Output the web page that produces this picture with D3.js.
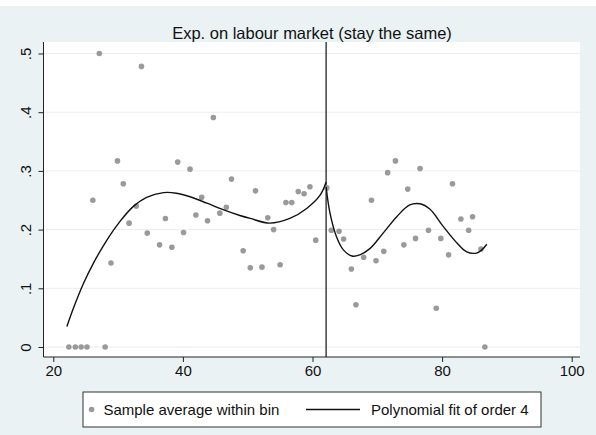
<!DOCTYPE html>
<html><head><meta charset="utf-8">
<script src="https://cdn.jsdelivr.net/npm/d3@7"></script>
<style>body{margin:0;background:#fff}svg{display:block;font-family:"Liberation Sans",Arial,sans-serif}</style>
</head><body><svg id="c" width="596" height="435"></svg>
<script>
const title = "Exp. on labour market (stay the same)";
const xTicks = [20, 40, 60, 80, 100];
const yTicks = [0, 0.1, 0.2, 0.3, 0.4, 0.5];
const yTickLabels = ["0", ".1", ".2", ".3", ".4", ".5"];
const cutoff = 62.1;
const binX = [22.4,23.4,24.3,25.2,26.1,27.1,28.0,28.9,29.9,30.8,31.7,32.8,33.6,34.5,36.4,37.3,38.3,39.2,40.1,41.1,42.0,42.9,43.8,44.7,45.7,46.7,47.5,49.3,50.4,51.2,52.2,53.1,54.0,55.0,55.9,56.8,57.8,58.7,59.6,60.5,62.2,
  62.9,64.1,64.8,66.0,66.7,67.9,69.1,69.8,71.0,71.6,72.8,74.1,74.7,75.9,76.6,77.9,79.1,79.8,81.0,81.6,82.9,84.1,84.7,86.0,86.6];
const binY = [0,0,0,0,0.250,0.500,0,0.143,0.317,0.278,0.211,0.240,0.478,0.194,0.174,0.219,0.170,0.315,0.195,0.303,0.225,0.255,0.215,0.391,0.228,0.238,0.286,0.164,0.135,0.266,0.136,0.220,0.200,0.140,0.246,0.246,0.265,0.261,0.273,0.182,0.271,
  0.199,0.197,0.184,0.133,0.072,0.153,0.250,0.147,0.163,0.297,0.317,0.174,0.269,0.185,0.304,0.199,0.066,0.185,0.157,0.278,0.218,0.199,0.222,0.167,0];
const fitLeftX = [22.1,23.1,24.6,26.2,28.2,30.3,32.4,34.4,37.0,39.0,41.1,43.7,46.2,48.8,50.4,53.4,56.5,59.1,61.2,62.1];
const fitLeftY = [0.035,0.066,0.107,0.143,0.181,0.214,0.240,0.255,0.263,0.262,0.256,0.245,0.234,0.224,0.219,0.211,0.219,0.236,0.259,0.281];
const fitRightX = [62.1,62.7,63.7,64.8,66.1,67.3,68.9,70.9,73.0,75.0,76.6,78.1,80.2,82.3,83.8,85.3,86.1,86.9];
const fitRightY = [0.273,0.228,0.188,0.165,0.155,0.157,0.168,0.194,0.222,0.242,0.244,0.235,0.205,0.177,0.162,0.160,0.165,0.175];
const legendLabels = ["Sample average within bin", "Polynomial fit of order 4"];

const svg = d3.select("#c");
const W = 596, H = 435;
const plot = {l: 43.5, r: 580, t: 42, b: 357};
svg.append("rect").attr("x",0).attr("y",0).attr("width",W).attr("height",H).attr("fill","#fff");
svg.append("rect").attr("x",0).attr("y",6).attr("width",W).attr("height",H-6).attr("fill","#eaf2f3");
svg.append("rect").attr("x",plot.l).attr("y",plot.t).attr("width",plot.r-plot.l).attr("height",plot.b-plot.t).attr("fill","#fff");

const x = d3.scaleLinear().domain([20,100]).range([53.3,571.7]);
const y = d3.scaleLinear().domain([0,0.5]).range([347,53.5]);

// grid
svg.append("g").selectAll("line").data(yTicks).join("line")
  .attr("x1",plot.l).attr("x2",plot.r).attr("y1",d=>y(d)).attr("y2",d=>y(d))
  .attr("stroke","#e8eef0").attr("stroke-width",1);

// axes
const xAxis = d3.axisBottom(x).tickValues(xTicks).tickSize(5).tickPadding(3).tickFormat(d3.format("d"));
const gx = svg.append("g").attr("transform",`translate(0,${plot.b})`).call(xAxis);
gx.select(".domain").attr("d",`M${plot.l},0H${plot.r}`).attr("stroke","#222");
gx.selectAll(".tick line").attr("stroke","#222");
gx.selectAll(".tick text").attr("font-size",15).attr("fill","#111").attr("font-family","Liberation Sans, Arial, sans-serif");

const yAxis = d3.axisLeft(y).tickValues(yTicks).tickSize(5).tickFormat((d,i)=>yTickLabels[i]);
const gy = svg.append("g").attr("transform",`translate(${plot.l},0)`).call(yAxis);
gy.select(".domain").attr("d",`M0,${plot.t}V${plot.b}`).attr("stroke","#222");
gy.selectAll(".tick line").attr("stroke","#222");
gy.selectAll(".tick text").attr("font-size",15).attr("fill","#111").attr("font-family","Liberation Sans, Arial, sans-serif")
  .attr("x",0).attr("dy",null).attr("text-anchor","middle")
  .attr("transform","translate(-18,0) rotate(-90)").attr("dominant-baseline","central");

// cutoff line
svg.append("line").attr("x1",x(cutoff)).attr("x2",x(cutoff)).attr("y1",plot.t).attr("y2",plot.b)
  .attr("stroke","#111").attr("stroke-width",1.2);

// points
const pts = binX.map((v,i)=>({x:v,y:binY[i]}));
svg.append("g").selectAll("circle").data(pts).join("circle")
  .attr("cx",d=>x(d.x)).attr("cy",d=>y(d.y)).attr("r",2.8).attr("fill","#9a9a9a");

// fits
const line = d3.line().x(d=>x(d[0])).y(d=>y(d[1])).curve(d3.curveCatmullRom.alpha(0.5));
svg.append("path").datum(fitLeftX.map((v,i)=>[v,fitLeftY[i]])).attr("d",line).attr("fill","none").attr("stroke","#111").attr("stroke-width",1.4);
svg.append("path").datum(fitRightX.map((v,i)=>[v,fitRightY[i]])).attr("d",line).attr("fill","none").attr("stroke","#111").attr("stroke-width",1.4);

// title
svg.append("text").attr("x",312).attr("y",38.5).attr("text-anchor","middle").attr("font-size",16.5).attr("fill","#111").text(title);

// legend
const lg = svg.append("g");
lg.append("rect").attr("x",83).attr("y",392).attr("width",458).attr("height",35).attr("fill","#fff").attr("stroke","#333").attr("stroke-width",1);
lg.append("circle").attr("cx",91.6).attr("cy",409.5).attr("r",2.8).attr("fill","#9a9a9a");
lg.append("text").attr("x",103.4).attr("y",414.8).attr("font-size",15).attr("fill","#111").text(legendLabels[0]);
lg.append("line").attr("x1",306).attr("x2",360).attr("y1",409.5).attr("y2",409.5).attr("stroke","#111").attr("stroke-width",1.4);
lg.append("text").attr("x",371).attr("y",414.8).attr("font-size",15).attr("fill","#111").text(legendLabels[1]);
</script></body></html>
